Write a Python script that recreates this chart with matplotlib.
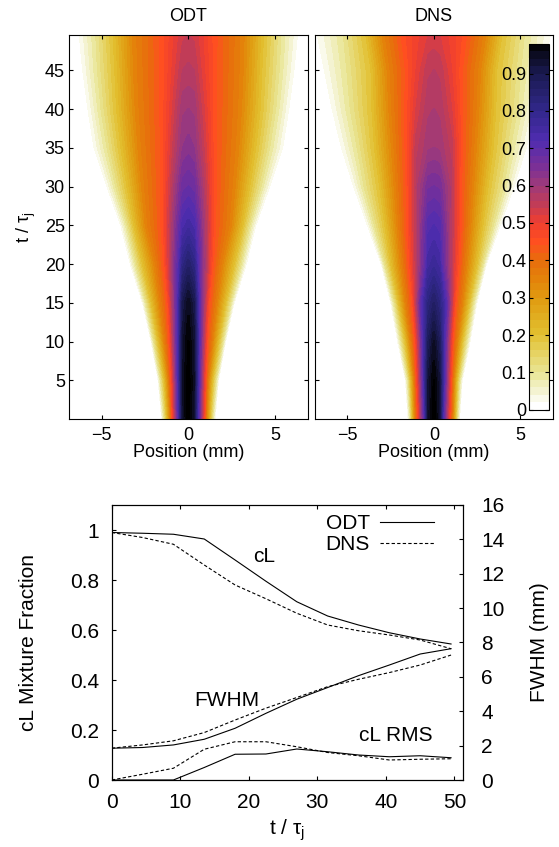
import numpy as np
import matplotlib
matplotlib.use("Agg")
import matplotlib.pyplot as plt
from matplotlib.colors import LinearSegmentedColormap

plt.rcParams['font.family'] = ['Liberation Sans', 'DejaVu Sans']
plt.rcParams['mathtext.default'] = 'regular'

# Field data: one row per time, half profile from x=0 outwards
field_t = [0.05, 5, 10, 15, 20, 25, 30, 35, 40, 45, 49.55]
edge_values = [0.45, 0.35, 0.2, 0.1, 0.02, 0.0]

odt_center = [0.99, 0.99, 0.98, 0.95, 0.85, 0.75, 0.68, 0.63, 0.60, 0.565, 0.54]
odt_shoulder = [0.93, 0.94, 0.93, 0.90, 0.81, 0.73, 0.67, 0.62, 0.595, 0.56, 0.535]
odt_mid_x = [0.55, 0.58, 0.6, 0.6, 0.55, 0.7, 0.8, 0.8, 0.8, 0.8, 0.8]
odt_mid_v = [0.7, 0.7, 0.7, 0.7, 0.7, 0.63, 0.58, 0.55, 0.53, 0.51, 0.5]
odt_edge_x = [
    [0.9, 1.0, 1.2, 1.35, 1.5, 1.6],
    [0.95, 1.1, 1.35, 1.55, 1.7, 1.8],
    [1.05, 1.35, 1.7, 1.95, 2.1, 2.2],
    [1.15, 1.6, 2.1, 2.4, 2.6, 2.75],
    [1.35, 1.9, 2.6, 3.0, 3.3, 3.5],
    [1.45, 2.4, 3.1, 3.5, 3.85, 4.0],
    [1.45, 2.6, 3.5, 4.15, 4.65, 4.8],
    [1.45, 2.8, 3.85, 4.65, 5.4, 5.55],
    [1.45, 2.95, 4.1, 5.0, 5.75, 5.9],
    [1.45, 3.05, 4.2, 5.2, 6.05, 6.2],
    [1.45, 3.1, 4.3, 5.3, 6.25, 6.4],
]

dns_center = [0.99, 0.98, 0.94, 0.86, 0.77, 0.72, 0.66, 0.60, 0.58, 0.56, 0.525]
dns_shoulder = [0.93, 0.92, 0.88, 0.82, 0.75, 0.71, 0.655, 0.595, 0.575, 0.555, 0.52]
dns_mid_x = [0.52, 0.58, 0.6, 0.7, 0.42, 0.8, 0.9, 1.0, 1.0, 1.0, 1.0]
dns_mid_v = [0.7, 0.7, 0.7, 0.7, 0.7, 0.6, 0.58, 0.55, 0.52, 0.5, 0.49]
dns_edge_x = [
    [0.9, 1.05, 1.2, 1.32, 1.45, 1.55],
    [0.96, 1.1, 1.3, 1.45, 1.6, 1.7],
    [1.05, 1.3, 1.6, 1.85, 2.05, 2.15],
    [1.2, 1.6, 2.0, 2.25, 2.45, 2.6],
    [1.4, 1.85, 2.45, 2.8, 3.0, 3.15],
    [1.5, 2.05, 2.8, 3.4, 3.8, 3.95],
    [1.5, 2.2, 3.1, 4.0, 4.6, 4.8],
    [1.55, 2.35, 3.4, 4.4, 5.3, 5.5],
    [1.55, 2.5, 3.55, 4.8, 5.85, 6.05],
    [1.5, 2.6, 3.6, 5.0, 6.3, 6.5],
    [1.75, 2.9, 3.9, 5.2, 6.7, 6.9],
]

# Line data
t_vals = [0, 4.5, 9, 13.5, 18, 22.5, 27, 31.5, 36, 40.5, 45, 49.5]
odt_cl = [0.99, 0.987, 0.983, 0.964, 0.88, 0.795, 0.713, 0.656, 0.62, 0.589, 0.564, 0.544]
dns_cl = [0.99, 0.97, 0.943, 0.86, 0.78, 0.725, 0.667, 0.62, 0.597, 0.58, 0.56, 0.525]
odt_fwhm = [1.85, 1.89, 2.04, 2.37, 3.01, 3.88, 4.7, 5.38, 6.07, 6.69, 7.33, 7.64]
dns_fwhm = [1.85, 2.04, 2.28, 2.76, 3.49, 4.18, 4.8, 5.43, 5.86, 6.25, 6.69, 7.27]
odt_rms = [0.0, 0.0, 0.0, 0.05, 0.103, 0.104, 0.124, 0.113, 0.1, 0.093, 0.097, 0.089]
dns_rms = [0.0, 0.023, 0.047, 0.123, 0.153, 0.153, 0.133, 0.11, 0.097, 0.08, 0.083, 0.085]

cmap_stops = [
    (0.0, '#ffffff'), (0.02, '#ffffff'), (0.03, '#f8f8e4'), (0.1, '#e9e594'),
    (0.2, '#e2c030'), (0.3, '#e09a10'), (0.35, '#e4820a'), (0.4, '#e86c0c'),
    (0.45, '#ff4f20'), (0.5, '#ef3f30'), (0.55, '#c03c58'), (0.6, '#a03a78'),
    (0.65, '#7c3096'), (0.72, '#4f2cb0'), (0.8, '#32288c'), (0.9, '#1a1a50'),
    (0.96, '#0a0a1c'), (0.98, '#000000'), (1.0, '#000000'),
]
cmap = LinearSegmentedColormap.from_list('odt_dns', cmap_stops, N=256)
levels = np.arange(0, 1.001, 0.02)

W, H = 559, 847
fig = plt.figure(figsize=(W / 100, H / 100), dpi=100)


def box(left, top, right, bottom):
    return [left / W, 1 - bottom / H, (right - left) / W, (bottom - top) / H]


def draw_field(ax, center, shoulder, mid_x, mid_v, edge_x):
    n = len(field_t)
    half_x = np.column_stack([np.zeros(n), np.full(n, 0.3), mid_x, edge_x, np.full(n, 7.0)])
    half_v = np.column_stack([center, shoulder, mid_v,
                              np.tile(edge_values, (n, 1)), np.zeros(n)])
    x = np.hstack([-half_x[:, :0:-1], half_x])
    v = np.hstack([half_v[:, :0:-1], half_v])
    y = np.tile(np.array(field_t)[:, None], (1, x.shape[1]))
    cs = ax.contourf(x, y, v, levels=levels, cmap=cmap)
    cs.set_edgecolor('face')
    ax.set_xlim(-6.88, 6.9)
    ax.set_ylim(0.05, 49.55)
    ax.set_xticks([-5, 0, 5])
    ax.set_yticks(range(5, 50, 5))
    ax.tick_params(direction='in', top=True, right=True, length=3, width=0.8,
                   labelsize=13, pad=3)
    ax.tick_params(axis='x', pad=6)
    ax.set_xlabel('Position (mm)', fontsize=13, labelpad=0)
    return cs


ax1 = fig.add_axes(box(69, 35, 308, 418.7))
draw_field(ax1, odt_center, odt_shoulder, odt_mid_x, odt_mid_v, odt_edge_x)
ax1.set_title('ODT', fontsize=13, pad=10)
ax1.set_ylabel('t / τ$_j$', fontsize=13, labelpad=5)

ax2 = fig.add_axes(box(315, 35, 553, 418.7))
cs2 = draw_field(ax2, dns_center, dns_shoulder, dns_mid_x, dns_mid_v, dns_edge_x)
ax2.set_title('DNS', fontsize=13, pad=10)
ax2.set_yticklabels([])

cax = fig.add_axes(box(529.3, 43.7, 549, 409.7))
cb = fig.colorbar(cs2, cax=cax)
cb.set_ticks(np.arange(0, 0.95, 0.1), labels=['0', '0.1', '0.2', '0.3', '0.4', '0.5', '0.6', '0.7', '0.8', '0.9'])
cax.set_ylim(0, 0.98)
cax.yaxis.set_ticks_position('left')
cax.tick_params(direction='in', left=True, right=True, length=3, width=0.8, labelsize=13, pad=2)
cb.outline.set_linewidth(0.8)

# Bottom chart
ax3 = fig.add_axes(box(111.7, 505, 462.7, 780))
ax3.plot(t_vals, odt_cl, color='black', lw=0.8, label='ODT')
ax3.plot(t_vals, dns_cl, color='black', lw=0.8, ls=(0, (3, 2)), label='DNS')
ax3.plot(t_vals, odt_rms, color='black', lw=0.8)
ax3.plot(t_vals, dns_rms, color='black', lw=0.8, ls=(0, (3, 2)))
ax3.set_xlim(0, 51.2)
ax3.set_ylim(0, 1.1)
ax3.set_xticks(range(0, 60, 10))
ax3.set_yticks([0, 0.2, 0.4, 0.6, 0.8, 1.0], labels=['0', '0.2', '0.4', '0.6', '0.8', '1'])
ax3.tick_params(direction='in', top=True, length=3, width=0.8, labelsize=15, pad=9)
ax3.set_xlabel('t / τ$_j$', fontsize=15, labelpad=4)
ax3.set_ylabel('cL Mixture Fraction', fontsize=15, labelpad=23)
ax3.text(22.3, 0.896, 'cL', fontsize=15, ha='center', va='center')
ax3.text(16.8, 0.32, 'FWHM', fontsize=15, ha='center', va='center')
ax3.text(41.5, 0.177, 'cL RMS', fontsize=15, ha='center', va='center')
ax3.legend(loc='upper right', bbox_to_anchor=(0.961, 1.02), frameon=False, fontsize=15,
           markerfirst=False, handlelength=2.6, handletextpad=0.5, labelspacing=0.1,
           borderpad=0.2)

ax4 = ax3.twinx()
ax4.plot(t_vals, odt_fwhm, color='black', lw=0.8)
ax4.plot(t_vals, dns_fwhm, color='black', lw=0.8, ls=(0, (3, 2)))
ax4.set_ylim(0, 16)
ax4.set_yticks(range(0, 18, 2))
ax4.tick_params(direction='in', length=3, width=0.8, labelsize=15, pad=13.5)
ax4.set_ylabel('FWHM (mm)', fontsize=15, labelpad=18)

fig.savefig('out.png', dpi=100)
